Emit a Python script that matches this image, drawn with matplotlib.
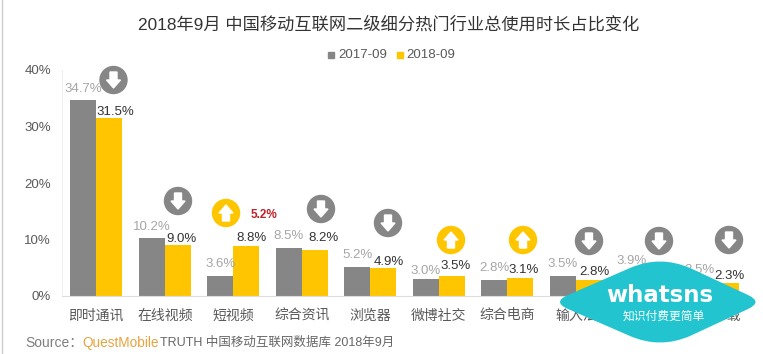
import numpy as np
import matplotlib
matplotlib.use('Agg')
import matplotlib.pyplot as plt
from matplotlib.patches import Circle, Polygon, PathPatch
from matplotlib.path import Path

plt.rcParams['font.family'] = ['Liberation Sans', 'Noto Sans CJK SC', 'DejaVu Sans']

W, H = 763, 354

categories = ['即时通讯', '在线视频', '短视频', '综合资讯', '浏览器', '微博社交', '综合电商', '输入法', '地图导航', '应用下载']
values_2017 = [34.7, 10.2, 3.6, 8.5, 5.2, 3.0, 2.8, 3.5, 3.9, 2.5]
values_2018 = [31.5, 9.0, 8.8, 8.2, 4.9, 3.5, 3.1, 2.8, 3.0, 2.3]
y_ticks = [0, 10, 20, 30, 40]
series_names = ['2017-09', '2018-09']
title = '2018年9月 中国移动互联网二级细分热门行业总使用时长占比变化'

# 数据标签相对柱顶的偏移（像素）
label_dy_2017 = [11, 11, 12, 12, 12, 8, 12, 12, 13, 12]
label_dx_2018 = [6, 3.5, 5, 9, 6, 4, 3, 6, 5, 4]
label_dy_2018 = [6, 6, 8, 12, 6, 10, 8, 8, 8, 7]

GRAY = '#868686'
YELLOW = '#ffc600'
TEAL = '#21c4cf'

fig = plt.figure(figsize=(W / 100, H / 100), dpi=100)

# 全图像素坐标层，y 向下
bg = fig.add_axes([0, 0, 1, 1], zorder=0)
bg.set_xlim(0, W)
bg.set_ylim(H, 0)
bg.axis('off')
bg.plot([1.5, 1.5], [0, H], color='#cccccc', lw=1)

ax = fig.add_axes([62 / W, 1 - 296 / H, 685 / W, 226 / H], zorder=1)
ax.patch.set_alpha(0)
x = np.arange(len(categories))
w = 26 / 68.6
ax.bar(x - w / 2, values_2017, w, color=GRAY)
ax.bar(x + w / 2, values_2018, w, color=YELLOW)
ax.set_xlim(-0.5, len(categories) - 0.5)
ax.set_ylim(0, 40)
ax.set_xticks(x)
ax.set_xticklabels(categories, fontsize=10, color='#595959')
ax.set_yticks(y_ticks)
ax.set_yticklabels([f'{v}%' for v in y_ticks], fontsize=9.5, color='#595959')
ax.tick_params(length=0)
ax.tick_params(axis='x', pad=9)
ax.tick_params(axis='y', pad=8)
for s in ['top', 'right']:
    ax.spines[s].set_visible(False)
ax.spines['left'].set_color('#eeeeee')
ax.spines['bottom'].set_color('#dddddd')

# 数据标签
pt = 0.72
for i in range(len(categories)):
    ax.annotate(f'{values_2017[i]}%', (x[i] - w / 2, values_2017[i]), xytext=(0, label_dy_2017[i] * pt),
                textcoords='offset points', ha='center', va='center', fontsize=9.5, color='#a6a6a6')
    ax.annotate(f'{values_2018[i]}%', (x[i] + w / 2, values_2018[i]),
                xytext=(label_dx_2018[i] * pt, label_dy_2018[i] * pt),
                textcoords='offset points', ha='center', va='center', fontsize=9.5, color='#333333')

fig.text(389 / W, 1 - 24 / H, title, ha='center', va='center', fontsize=12.4, color='#333333')

# 图例
bg.add_patch(plt.Rectangle((328, 52), 6, 6, color=GRAY))
bg.text(338, 55.5, series_names[0], fontsize=9.5, color='#595959', va='center')
bg.add_patch(plt.Rectangle((397, 52), 6, 6, color=YELLOW))
bg.text(406, 55.5, series_names[1], fontsize=9.5, color='#595959', va='center')


def arrow_icon(a, cx, cy, up):
    color = YELLOW if up else GRAY
    a.add_patch(Circle((cx, cy), 13.5, color=color, zorder=5))
    s = -1 if up else 1
    pts = [(-3.5, -8), (3.5, -8), (3.5, 0), (7, 0), (0, 8), (-7, 0), (-3.5, 0)]
    a.add_patch(Polygon([(cx + px, cy + s * py) for px, py in pts], color='white', zorder=6))


top = fig.add_axes([0, 0, 1, 1], zorder=3)
top.set_xlim(0, W)
top.set_ylim(H, 0)
top.axis('off')

icons = [(113.5, 80, False), (178, 201, False), (226, 213, True), (321, 209, False), (388, 223, False),
         (451, 240, True), (523, 240, True), (589, 241, False), (659, 241, False), (729, 240, False)]
for cx, cy, up in icons:
    arrow_icon(top, cx, cy, up)

top.text(264, 215, '5.2%', fontsize=8.5, color='#c0202a', fontweight='bold', ha='center', va='center')

# 来源
top.text(25, 343, 'Source：', fontsize=10, color='#7f7f7f', va='center')
top.text(82, 343, 'QuestMobile', fontsize=9.8, color='#e8a33d', va='center')
top.text(160, 343, 'TRUTH 中国移动互联网数据库 2018年9月', fontsize=9, color='#666666', va='center')

# 水印：圆角菱形
verts = [(568, 295), (552, 302), (568, 309),
         (630, 336), (660, 349), (690, 336),
         (748, 309), (763, 302), (748, 295),
         (690, 268), (660, 255), (630, 268), (568, 295)]
codes = [Path.MOVETO, Path.CURVE3, Path.CURVE3,
         Path.LINETO, Path.CURVE3, Path.CURVE3,
         Path.LINETO, Path.CURVE3, Path.CURVE3,
         Path.LINETO, Path.CURVE3, Path.CURVE3, Path.LINETO]
top.add_patch(PathPatch(Path(verts, codes), facecolor=TEAL, edgecolor='none', zorder=8))
top.text(660, 295, 'whatsns', fontsize=16.5, fontweight='bold', family='DejaVu Sans', color='white',
         ha='center', va='center', zorder=9)
top.text(664, 317, '知识付费更简单', fontsize=8.5, color='white', ha='center', va='center', zorder=9)

fig.savefig('out.png', dpi=100)
